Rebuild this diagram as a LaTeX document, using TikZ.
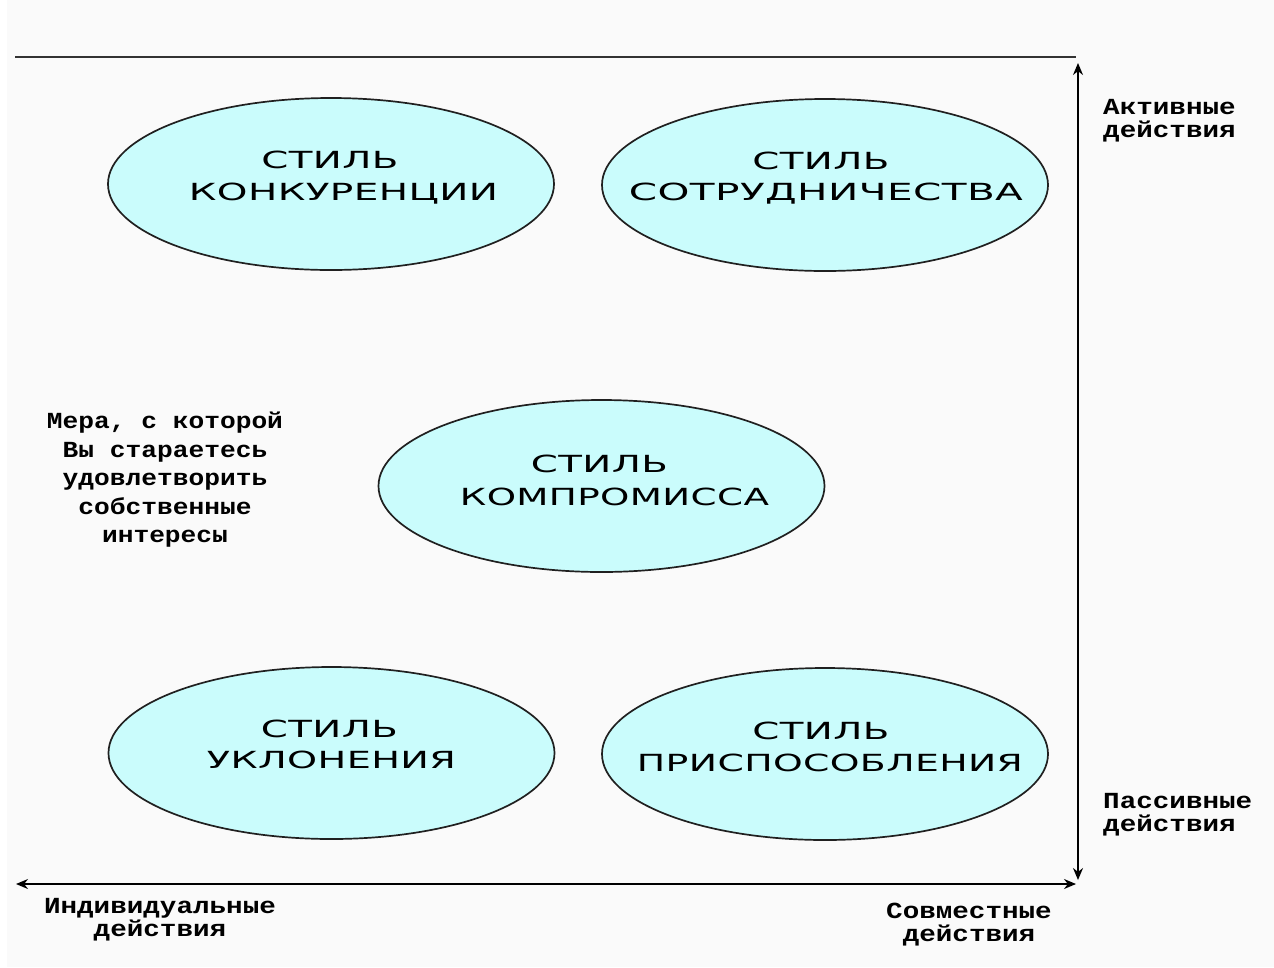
\documentclass[tikz,border=0pt]{standalone}
\usepackage{fontspec}
\usepackage{graphicx}
\usetikzlibrary{arrows.meta,shapes.geometric}
\newfontfamily\ellfont[LetterSpace=1]{DejaVu Sans}
\newfontfamily\labfont[FakeStretch=1.2]{Liberation Mono}
\newfontfamily\blockfont[FakeStretch=1.14]{Liberation Mono}
\definecolor{bgc}{HTML}{FAFAFA}
\definecolor{ellc}{HTML}{CAFCFC}
\definecolor{edgec}{HTML}{202020}
\newcommand\fitline[2]{\resizebox{#1pt}{17.5pt}{\ellfont #2}}
\begin{document}
\begin{tikzpicture}[x=1pt,y=-1pt,
  ellipsebox/.style={ellipse, draw=edgec, fill=ellc, line width=1.7pt,
    minimum width=446pt, minimum height=172pt, inner sep=0pt},
  elltext/.style={anchor=base, inner sep=0pt, text=black},
  sidelab/.style={inner sep=0pt, text=black,
    font=\labfont\bfseries\fontsize{23}{23}\selectfont},
  blocklab/.style={inner sep=0pt, text=black, align=center,
    font=\blockfont\bfseries\fontsize{23}{28.5}\selectfont},
  axisline/.style={line width=1.5pt, draw=black,
    {Stealth[length=12pt,width=10pt]}-{Stealth[length=12pt,width=10pt]}}
]
\fill[white] (0,0) rectangle (1274,967);
\fill[bgc] (7,0) rectangle (1274,967);
\useasboundingbox (0,0) rectangle (1274,967);

% top border line
\coordinate (topL) at (15,57);
\coordinate (topR) at (1076,57);
\draw[line width=2.2pt, draw=black!80] (topL) -- (topR);

% axes
\coordinate (vtop) at (1078,63);
\coordinate (vbot) at (1078,880);
\draw[axisline] (vtop) -- (vbot);
\coordinate (hleft) at (16,884);
\coordinate (hright) at (1076,884);
\draw[axisline] (hleft) -- (hright);

% ellipses
\node[ellipsebox] (konk) at (331,184) {};
\node[ellipsebox] (sotr) at (825,185) {};
\node[ellipsebox] (komp) at (601.5,486) {};
\node[ellipsebox] (ukl)  at (331.5,753) {};
\node[ellipsebox] (pris) at (825,754) {};

% ellipse texts
\node[elltext] (konk1) at (330,168)   {\fitline{137}{СТИЛЬ}};
\node[elltext] (konk2) at (343.5,200) {\fitline{309}{КОНКУРЕНЦИИ}};
\node[elltext] (sotr1) at (821,169)   {\fitline{137}{СТИЛЬ}};
\node[elltext] (sotr2) at (826,200)   {\fitline{394}{СОТРУДНИЧЕСТВА}};
\node[elltext] (komp1) at (599.5,472) {\fitline{137}{СТИЛЬ}};
\node[elltext] (komp2) at (614.5,505) {\fitline{309}{КОМПРОМИССА}};
\node[elltext] (ukl1)  at (329.5,737) {\fitline{137}{СТИЛЬ}};
\node[elltext] (ukl2)  at (331.5,768) {\fitline{249}{УКЛОНЕНИЯ}};
\node[elltext] (pris1) at (821,739)   {\fitline{137}{СТИЛЬ}};
\node[elltext] (pris2) at (830,771)   {\fitline{386}{ПРИСПОСОБЛЕНИЯ}};

% side labels
\node[sidelab, anchor=north west, align=left] (akt) at (1103,99) {Активные\\действия};
\node[sidelab, anchor=north west, align=left] (pas) at (1103,793) {Пассивные\\действия};
\node[sidelab, anchor=north, align=center] (ind) at (160,898) {Индивидуальные\\действия};
\node[sidelab, anchor=north, align=center] (sovm) at (969,903) {Совместные\\действия};
\node[blocklab, anchor=north] (mera) at (165,412) {Мера, с которой\\Вы стараетесь\\удовлетворить\\собственные\\интересы};
\end{tikzpicture}
\end{document}
